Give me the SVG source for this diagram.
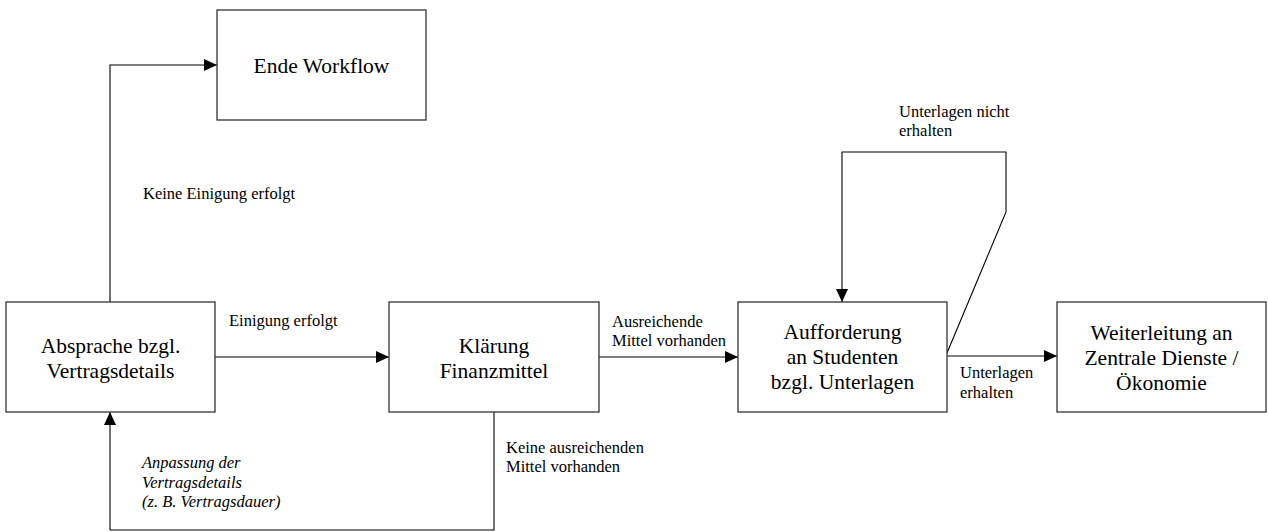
<svg xmlns="http://www.w3.org/2000/svg" width="1268" height="532" viewBox="0 0 1268 532">
<defs>
<marker id="arr" viewBox="0 0 13 12" refX="13" refY="6" markerWidth="13" markerHeight="12" markerUnits="userSpaceOnUse" orient="auto">
<path d="M0,0 L13,6 L0,12 z" fill="#000"/>
</marker>
<style>
text{font-family:'Liberation Serif','Times New Roman','DejaVu Serif',serif}
.box{fill:#fff;stroke:#333;stroke-width:1.3}
.nt{font-size:21.5px;fill:#000;text-anchor:middle}
.lb{font-size:16.5px;fill:#000}
.it{font-style:italic}
.ln{fill:none;stroke:#000;stroke-width:1.1}
</style>
</defs>
<rect width="1268" height="532" fill="#fff"/>
<g id="connectors">
<polyline class="ln" points="110,302 110,65 217,65" marker-end="url(#arr)"/>
<line class="ln" x1="215" y1="357" x2="389" y2="357" marker-end="url(#arr)"/>
<line class="ln" x1="599" y1="357" x2="738" y2="357" marker-end="url(#arr)"/>
<polyline class="ln" points="494,411 494,530 110,530 110,412" marker-end="url(#arr)"/>
<polyline class="ln" points="947,353 1006,212 1006,152 842,152 842,302" marker-end="url(#arr)"/>
<line class="ln" x1="947" y1="356" x2="1057" y2="356" marker-end="url(#arr)"/>
</g>
<g id="labels">
<text class="lb" x="143" y="199">Keine Einigung erfolgt</text>
<text class="lb" x="229" y="326">Einigung erfolgt</text>
<text class="lb" x="612" y="327">Ausreichende</text>
<text class="lb" x="612" y="346">Mittel vorhanden</text>
<text class="lb" x="506" y="453">Keine ausreichenden</text>
<text class="lb" x="506" y="472">Mittel vorhanden</text>
<text class="lb it" x="142" y="468">Anpassung der</text>
<text class="lb it" x="142" y="488">Vertragsdetails</text>
<text class="lb it" x="142" y="507">(z. B. Vertragsdauer)</text>
<text class="lb" x="899" y="117">Unterlagen nicht</text>
<text class="lb" x="899" y="136">erhalten</text>
<text class="lb" x="960" y="378">Unterlagen</text>
<text class="lb" x="960" y="398">erhalten</text>
</g>
<g id="node-ende">
<rect class="box" x="217" y="10" width="209" height="110"/>
<text class="nt" x="321.5" y="73">Ende Workflow</text>
</g>
<g id="node-absprache">
<rect class="box" x="6" y="302" width="209" height="110"/>
<text class="nt" x="110.5" y="353">Absprache bzgl.</text>
<text class="nt" x="110.5" y="378">Vertragsdetails</text>
</g>
<g id="node-klaerung">
<rect class="box" x="389" y="302" width="210" height="110"/>
<text class="nt" x="494" y="353">Klärung</text>
<text class="nt" x="494" y="378">Finanzmittel</text>
</g>
<g id="node-aufforderung">
<rect class="box" x="738" y="302" width="209" height="110"/>
<text class="nt" x="842.5" y="339">Aufforderung</text>
<text class="nt" x="842.5" y="364">an Studenten</text>
<text class="nt" x="842.5" y="389">bzgl. Unterlagen</text>
</g>
<g id="node-weiterleitung">
<rect class="box" x="1057" y="302" width="209" height="110"/>
<text class="nt" x="1161.5" y="340">Weiterleitung an</text>
<text class="nt" x="1161.5" y="365">Zentrale Dienste /</text>
<text class="nt" x="1161.5" y="390">Ökonomie</text>
</g>
</svg>
